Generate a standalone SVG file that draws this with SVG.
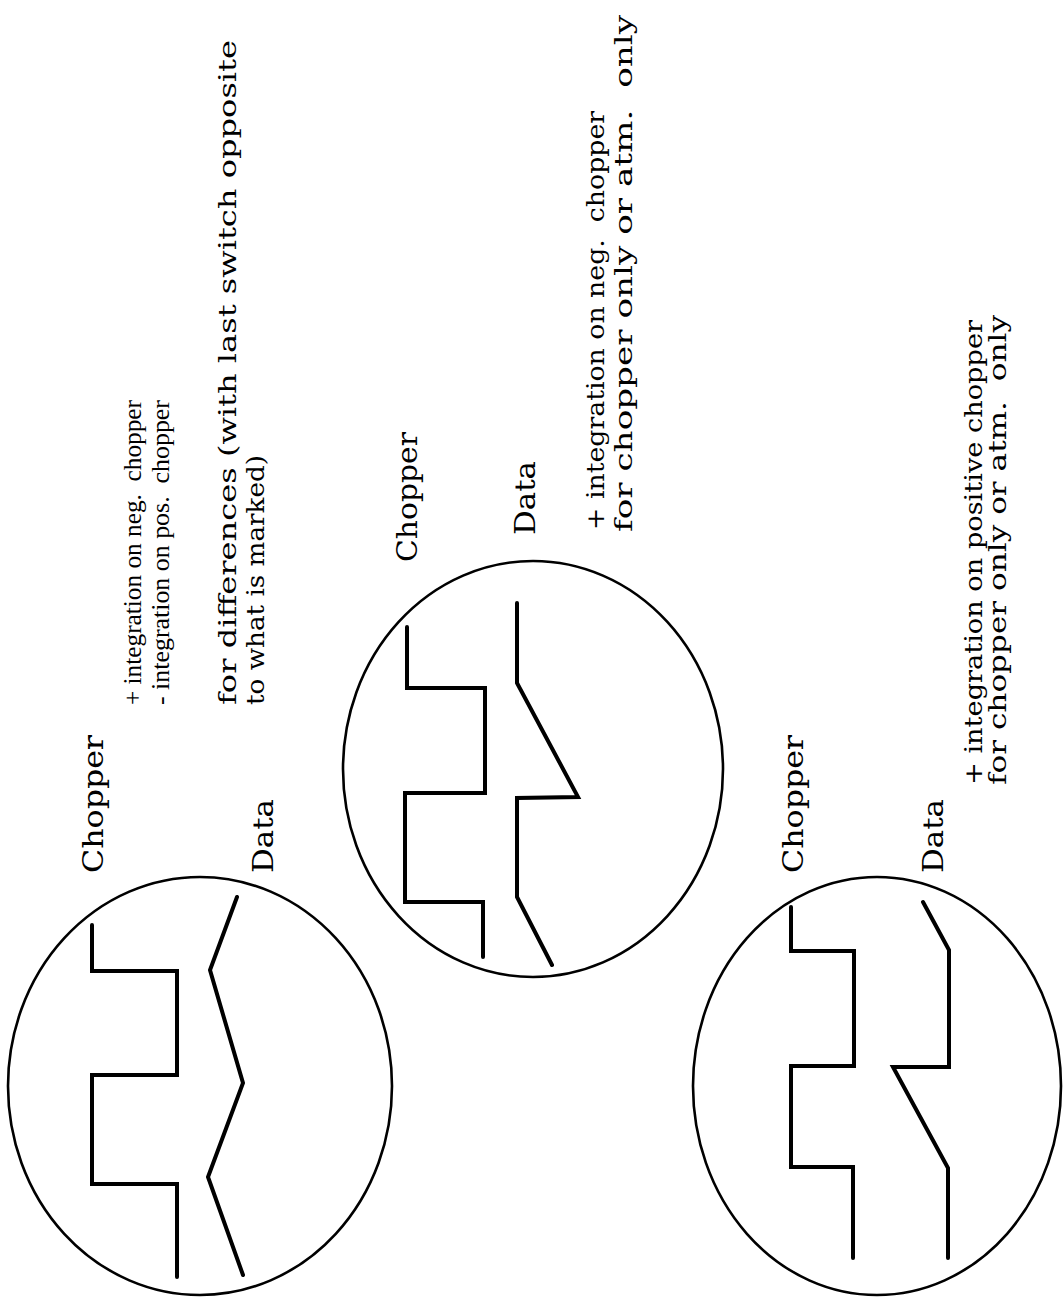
<svg xmlns="http://www.w3.org/2000/svg" width="1064" height="1303" viewBox="0 0 1064 1303">
<style>
.scope{fill:none;stroke:#000;stroke-width:2.6}
.wave{fill:none;stroke:#000;stroke-width:4;stroke-linejoin:miter;stroke-linecap:round}
.lbl{font-family:"DejaVu Serif","Liberation Serif",serif;font-size:28px;fill:#000}
.txt{font-family:"DejaVu Serif","Liberation Serif",serif;font-size:25px;fill:#000}
.nar{font-family:"Liberation Serif","DejaVu Serif",serif;font-size:26px;fill:#000}
</style>
<rect width="1064" height="1303" fill="#fff"/>
<g id="panel1">
<ellipse class="scope" cx="200" cy="1086" rx="192" ry="209"/>
<polyline class="wave" points="92,925 92,971 177,971 177,1075 92,1075 92,1184 177,1184 177,1277"/>
<polyline class="wave" points="237,897 210,970 243,1083 208,1177 243,1275"/>
<text class="lbl" transform="translate(103,873) rotate(-90)" textLength="138" lengthAdjust="spacingAndGlyphs">Chopper</text>
<text class="lbl" transform="translate(273,873) rotate(-90)" textLength="74" lengthAdjust="spacingAndGlyphs">Data</text>
<text class="nar" transform="translate(141,705) rotate(-90)" textLength="305" lengthAdjust="spacingAndGlyphs" xml:space="preserve">+ integration on neg.  chopper</text>
<text class="nar" transform="translate(169,705) rotate(-90)" textLength="305" lengthAdjust="spacingAndGlyphs" xml:space="preserve">- integration on pos.  chopper</text>
<text class="txt" transform="translate(236,705) rotate(-90)" textLength="665" lengthAdjust="spacingAndGlyphs">for differences (with last switch opposite</text>
<text class="txt" transform="translate(264,705) rotate(-90)" textLength="250" lengthAdjust="spacingAndGlyphs">to what is marked)</text>
</g>
<g id="panel2">
<ellipse class="scope" cx="533" cy="769" rx="190" ry="208"/>
<polyline class="wave" points="407,627 407,688 485,688 485,793 405,793 405,902 483,902 483,957"/>
<polyline class="wave" points="517,603 517,683 578,797 517,798 517,897 552,965"/>
<text class="lbl" transform="translate(417,562) rotate(-90)" textLength="130" lengthAdjust="spacingAndGlyphs">Chopper</text>
<text class="lbl" transform="translate(535,535) rotate(-90)" textLength="74" lengthAdjust="spacingAndGlyphs">Data</text>
<text class="txt" transform="translate(604,530) rotate(-90)" textLength="419" lengthAdjust="spacingAndGlyphs" xml:space="preserve">+ integration on neg.  chopper</text>
<text class="txt" transform="translate(632,532) rotate(-90)" textLength="517" lengthAdjust="spacingAndGlyphs" xml:space="preserve">for chopper only or atm.  only</text>
</g>
<g id="panel3">
<ellipse class="scope" cx="877" cy="1086" rx="184" ry="209"/>
<polyline class="wave" points="791,907 791,951 854,951 854,1066 791,1066 791,1167 853,1167 853,1258"/>
<polyline class="wave" points="923,902 949,950 949,1067 893,1067 948,1168 948,1258"/>
<text class="lbl" transform="translate(803,873) rotate(-90)" textLength="138" lengthAdjust="spacingAndGlyphs">Chopper</text>
<text class="lbl" transform="translate(943,873) rotate(-90)" textLength="74" lengthAdjust="spacingAndGlyphs">Data</text>
<text class="txt" transform="translate(982,785) rotate(-90)" textLength="465" lengthAdjust="spacingAndGlyphs">+ integration on positive chopper</text>
<text class="txt" transform="translate(1006,785) rotate(-90)" textLength="470" lengthAdjust="spacingAndGlyphs" xml:space="preserve">for chopper only or atm.  only</text>
</g>
<g id="connectors"/>
</svg>
